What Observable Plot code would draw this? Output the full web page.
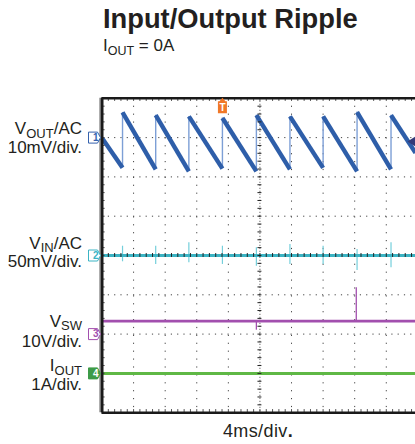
<!DOCTYPE html>
<html><head><meta charset="utf-8">
<script src="https://cdn.jsdelivr.net/npm/d3@7"></script>
<script src="https://cdn.jsdelivr.net/npm/@observablehq/plot@0.6"></script>
<style>
html,body{margin:0;padding:0;background:#fff;overflow:hidden;}
#wrap{position:relative;width:415px;height:444px;font-family:"Liberation Sans",Arial,sans-serif;color:#231f20;}
#chart{position:absolute;left:0;top:0;}
.t{position:absolute;white-space:nowrap;}
</style></head><body>
<div id="wrap">
 <div id="chart"></div>
 <div class="t" style="left:103px;top:5.2px;font-size:27.3px;line-height:27px;font-weight:bold;">Input/Output Ripple</div>
 <div class="t" style="left:103px;top:37.3px;font-size:17px;line-height:17px;">I<span style="font-size:12.5px;position:relative;top:4px">OUT</span> = 0A</div>
 <div class="t" style="left:158px;width:200px;text-align:center;top:421.8px;font-size:18px;line-height:18px;letter-spacing:0.4px;">4ms/div<b>.</b></div>
</div>
<script>
// ---- Data ----
// time in ms (4 ms/div), screen centre = 0
const xDomain = [-20, 19.7];
const gridTimes = [-16, -12, -8, -4, 0, 4, 8, 12, 16];
const gridDivs = [-3, -2, -1, 0, 1, 2, 3];
// channels
const channels = ["1", "2", "3", "4"];
const channelGround = [3, 0, -2, -3];           // ground marker position (div)
const channelColor = ["#3461ad", "#3bb4c4", "#a24fae", "#3d9b48"];
const channelPerDiv = [10, 50, 10, 1];           // mV, mV, V, A per div
// VOUT/AC ripple (mV)
const switchTimes = [-17.4, -13.2, -9.0, -4.75, -0.45, 3.8, 8.0, 12.3, 16.6];
const voutPeaks   = [6.4, 5.7, 5.4, 5.0, 5.7, 5.4, 5.4, 6.5, 5.7];
const voutTroughs = [-7.7, -8.1, -8.6, -7.9, -8.6, -8.1, -7.7, -8.6, -8.1];
const voutStart = -0.1, voutEnd = -3.9;
// VIN/AC (mV) spikes at each switching event
const vinLevel = 0;
const vinSpikeUp   = [11.8, 11.8, 16.1, 11.8, 9.8, 14.0, 11.8, 7.6, 16.1];
const vinSpikeDown = [-8.0, -11.4, -9.3, -11.4, -13.6, -11.4, -11.4, -19.0, -15.6];
// VSW (V)
const vswLevel = 3.3;
const vswSpikeTimes = [-0.45, 12.2];
const vswSpikeValues = [1.0, 11.8];
// IOUT (A)
const ioutLevel = 0.0;
// trigger
const triggerTime = -4.75;
const triggerLevel = -1.0; // mV on channel 1
// labels
const labelMain = ["V", "V", "V", "I"];
const labelSub  = ["OUT", "IN", "SW", "OUT"];
const labelRest = ["/AC", "/AC", "", ""];
const labelScale = ["10mV/div.", "50mV/div.", "10V/div.", "1A/div."];

// ---- Layout helpers ----
const line1Off = [0.23, 0.31, 0.32, 0.19];
const line2Off = [-0.26, -0.15, -0.18, -0.28];
const toDiv = (ch, v) => channelGround[ch] + v / channelPerDiv[ch];

const minorTimes = d3.range(-20, 19.7, 0.8);
const minorDivs = d3.range(-4, 4.01, 0.2);

// VOUT ramps
const ramps = [{x1: xDomain[0], y1: voutStart, x2: switchTimes[0], y2: voutTroughs[0]}];
for (let i = 0; i < switchTimes.length; i++) {
  const nx = i + 1 < switchTimes.length ? switchTimes[i + 1] : xDomain[1];
  const ny = i + 1 < switchTimes.length ? voutTroughs[i + 1] : voutEnd;
  ramps.push({x1: switchTimes[i], y1: voutPeaks[i], x2: nx, y2: ny});
}
const jumps = switchTimes.map((t, i) => ({t, lo: voutTroughs[i], hi: voutPeaks[i]}));
const vinSpikes = switchTimes.map((t, i) => ({t, up: vinSpikeUp[i], down: vinSpikeDown[i]}));
const vswSpikes = vswSpikeTimes.map((t, i) => ({t, v: vswSpikeValues[i]}));
const tags = channels.map((c, i) => ({c, i, y: channelGround[i]}));
const labels = channels.map((c, i) => ({i, text: labelMain[i] + labelSub[i] + labelRest[i], y1: channelGround[i] + line1Off[i], y2: channelGround[i] + line2Off[i], scale: labelScale[i]}));

const tagSymbol = {draw(ctx) {
  ctx.moveTo(-6, -5.5); ctx.lineTo(3, -5.5); ctx.lineTo(6, 0); ctx.lineTo(3, 5.5); ctx.lineTo(-6, 5.5); ctx.closePath();
}};
const tBoxSymbol = {draw(ctx) {
  ctx.moveTo(-4.5, -6); ctx.lineTo(4.5, -6); ctx.lineTo(4.5, 6); ctx.lineTo(-4.5, 6); ctx.closePath();
  ctx.moveTo(-3, -6); ctx.lineTo(0, -9.5); ctx.lineTo(3, -6); ctx.closePath();
}};
const leftTri = {draw(ctx) {
  ctx.moveTo(-4, 0); ctx.lineTo(4, -5); ctx.lineTo(4, 5); ctx.closePath();
}};

const plot = Plot.plot({
  width: 415, height: 444,
  marginLeft: 101.5, marginRight: 0, marginTop: 97.8, marginBottom: 31.8,
  x: {domain: xDomain, axis: null},
  y: {domain: [-4, 4], axis: null},
  style: {fontFamily: "Liberation Sans, Arial, sans-serif", background: "transparent", overflow: "visible", color: "#231f20"},
  marks: [
    // grid
    Plot.ruleX(gridTimes.filter(t => t !== 0), {stroke: "#444", strokeWidth: 1, strokeDasharray: "1.2,6.7"}),
    Plot.ruleY(gridDivs.filter(d => d !== 0), {stroke: "#444", strokeWidth: 1, strokeDasharray: "1.2,5.1"}),
    Plot.ruleX([0], {stroke: "#444", strokeWidth: 1, strokeDasharray: "1,2"}),
    Plot.ruleY([0], {stroke: "#444", strokeWidth: 1, strokeDasharray: "1,2"}),
    // traces
    Plot.ruleY([toDiv(3, ioutLevel)], {stroke: "#5fb845", strokeWidth: 3}),
    Plot.ruleX(vswSpikes, {x: "t", y1: toDiv(2, vswLevel), y2: d => toDiv(2, d.v), stroke: "#a24fae", strokeWidth: 1.3}),
    Plot.ruleY([toDiv(2, vswLevel)], {stroke: "#a24fae", strokeWidth: 2.6}),
    Plot.ruleX(vinSpikes, {x: "t", y1: d => toDiv(1, d.down), y2: d => toDiv(1, d.up), stroke: "#74cfdb", strokeWidth: 1.2}),
    Plot.ruleY([toDiv(1, vinLevel)], {stroke: "#3bb4c4", strokeWidth: 3}),
    Plot.ruleX(jumps, {x: "t", y1: d => toDiv(0, d.lo), y2: d => toDiv(0, d.hi), stroke: "#7d9fd6", strokeWidth: 1.4}),
    Plot.link(ramps, {x1: "x1", x2: "x2", y1: d => toDiv(0, d.y1), y2: d => toDiv(0, d.y2), stroke: "#2e5ea9", strokeWidth: 4.4, strokeLinecap: "butt"}),
    // centre-line minor ticks
    Plot.ruleX(minorTimes, {y1: -0.05, y2: 0.05, stroke: "#222", strokeWidth: 1}),
    Plot.ruleY(minorDivs, {x1: -0.25, x2: 0.25, stroke: "#222", strokeWidth: 1}),
    // frame
    Plot.ruleX(minorTimes, {y1: 4, y2: 3.92, stroke: "#555", strokeWidth: 1}),
    Plot.ruleX(minorTimes, {y1: -4, y2: -3.92, stroke: "#555", strokeWidth: 1}),
    Plot.ruleY(minorDivs, {x1: -20, x2: -19.6, stroke: "#555", strokeWidth: 1}),
    Plot.ruleY([4], {stroke: "#1a1a1a", strokeWidth: 2.6}),
    Plot.ruleY([-4], {stroke: "#1a1a1a", strokeWidth: 2.6}),
    Plot.ruleX([-20], {dx: -2.2, stroke: "#9a9a9a", strokeWidth: 1.2}),
    Plot.ruleX([-20], {stroke: "#1a1a1a", strokeWidth: 3}),
    // channel tags
    Plot.dot(tags, {frameAnchor: "left", y: "y", dx: -7.5, symbol: tagSymbol, r: 5,
      fill: d => d.i === 3 ? channelColor[3] : "#fff", stroke: d => channelColor[d.i], strokeWidth: 1}),
    Plot.text(tags, {frameAnchor: "left", y: "y", dx: -9, text: "c", fontSize: 10, fontWeight: "bold",
      fill: d => d.i === 3 ? "#fff" : channelColor[d.i]}),
    // trigger marker
    Plot.dot([triggerTime], {x: d => d, y: 3.77, symbol: tBoxSymbol, r: 5, fill: "#f07828", stroke: "none"}),
    Plot.text([triggerTime], {x: d => d, y: 3.77, text: () => "T", fill: "#fff", fontSize: 10, fontWeight: "bold"}),
    Plot.dot([triggerLevel], {x: xDomain[1], dx: -4, y: d => toDiv(0, d), symbol: leftTri, r: 4, fill: "#343a78", stroke: "none"}),
    // left labels (two lines each, built into one text element below)
    Plot.text(labels, {frameAnchor: "left", y: "y1", dx: -20, text: "text", textAnchor: "end", fontSize: 17, fill: "#231f20"})
  ]
});

// subscripts in the channel names + second line (volts/div)
const ys = plot.scale("y");
const combined = labels.map(d => d.text);
d3.select(plot).selectAll("text").each(function () {
  const i = combined.indexOf(this.textContent);
  if (i < 0) return;
  const t = d3.select(this);
  const gap = ys.apply(labels[i].y2) - ys.apply(labels[i].y1);
  t.text(null);
  t.append("tspan").text(labelMain[i]);
  t.append("tspan").attr("font-size", 13).attr("dy", 3.5).text(labelSub[i]);
  let shift = 3.5;
  if (labelRest[i]) { t.append("tspan").attr("font-size", 17).attr("dy", -3.5).text(labelRest[i]); shift = 0; }
  t.append("tspan").attr("x", 0).attr("font-size", 17).attr("dy", gap - shift).text(labels[i].scale);
});
document.getElementById("chart").appendChild(plot);
</script>
</body></html>
